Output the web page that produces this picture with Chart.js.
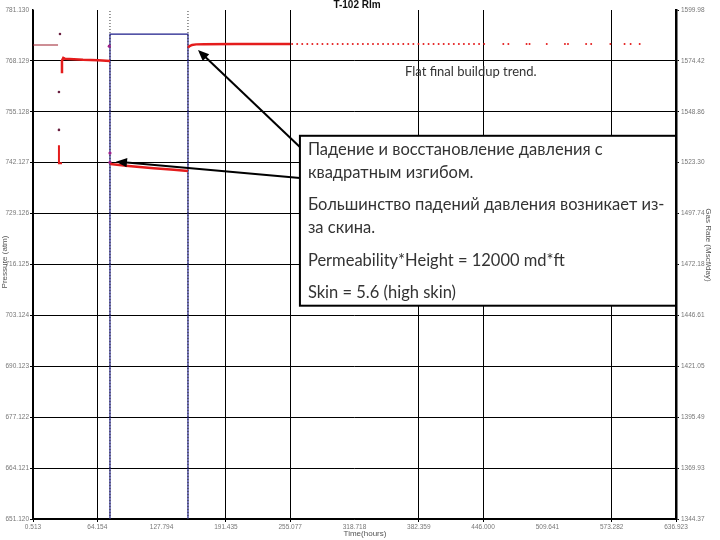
<!DOCTYPE html>
<html>
<head>
<meta charset="utf-8">
<script src="https://cdn.jsdelivr.net/npm/chart.js@4/dist/chart.umd.min.js"></script>
<style>
  html, body { margin: 0; padding: 0; background: #fff; }
  #wrap { width: 720px; height: 540px; }
</style>
</head>
<body>
<div id="wrap"><canvas id="pressureChart" width="720" height="540"></canvas></div>
<script>
// Axis ticks (hours / atm / rate)
const xTicks = [0.513, 64.154, 127.794, 191.435, 255.077, 318.718, 382.359, 446.000, 509.641, 573.282, 636.923];
const xLabels = ['0.513', '64.154', '127.794', '191.435', '255.077', '318.718', '382.359', '446.000', '509.641', '573.282', '636.923'];
const xNoGrid = [2, 5, 8];
const leftTicks = [651.120, 664.121, 677.122, 690.123, 703.124, 716.125, 729.126, 742.127, 755.128, 768.129, 781.130];
const leftLabels = ['651.120', '664.121', '677.122', '690.123', '703.124', '716.125', '729.126', '742.127', '755.128', '768.129', '781.130'];
const rightTicks = [1344.37, 1369.93, 1395.49, 1421.05, 1446.61, 1472.18, 1497.74, 1523.30, 1548.86, 1574.42, 1599.98];
const rightLabels = ['1344.37', '1369.93', '1395.49', '1421.05', '1446.61', '1472.18', '1497.74', '1523.30', '1548.86', '1574.42', '1599.98'];

// Pressure series (hours, atm)
const earlyHours = [0.513, 25.3];
const earlyPres = [772.19, 772.19];
const strayHours = [27.2, 26.2, 26.2];
const strayPres = [775.0, 760.2, 750.5];
const upper1Hours = [29.2, 29.2, 30.5, 32.0, 50.0, 65.0, 76.7];
const upper1Pres = [765.0, 768.2, 768.9, 768.7, 768.4, 768.3, 768.1];
const lower1Hours = [26.2, 26.2, 29.2];
const lower1Pres = [746.6, 742.0, 742.0];
const lower2Hours = [77.0, 95.0, 120.0, 140.0, 153.9];
const lower2Pres = [741.8, 741.3, 740.7, 740.3, 740.0];
const markHours = [76.0, 76.7, 76.7];
const markPres = [771.9, 744.6, 742.2];
const upper2Hours = [153.9, 155.5, 158.0, 162.0, 170.0, 200.0, 230.0, 255.0];
const upper2Pres = [771.5, 771.9, 772.2, 772.35, 772.4, 772.45, 772.45, 772.45];
const tailHours = [257, 262, 267, 272, 277, 282, 287, 292, 297, 302, 307, 312, 317, 322, 327, 332, 337, 342,
  347, 352, 357, 362, 367, 372, 377, 382, 387, 392, 397, 402, 407, 412, 417, 422, 427, 432, 437, 442, 447,
  466, 471, 489, 492, 509, 527, 530, 548, 553, 572, 586, 592, 601];
const tailPres = tailHours.map(() => 772.45);

// Rate series (hours, rate)
const rateHours = [76.7, 76.7, 153.9, 153.9];
const rateVals = [1344.37, 1587.9, 1587.9, 1344.37];

// Annotations (data coordinates)
const noteBox = { x1: 264.7, x2: 636.923, y1: 749.0, y2: 705.6 };
const arrows = [
  { from: [265.7, 745.9], to: [163.8, 770.9] },
  { from: [264.7, 738.2], to: [82.6, 742.4] }
];
const flatNote = { x: 368.7, y: 765.3, text: 'Flat final buildup trend.' };
const noteLines = [
  'Падение и восстановление давления с',
  'квадратным изгибом.',
  'Большинство падений давления возникает из-',
  'за скина.',
  'Permeability*Height = 12000 md*ft',
  'Skin = 5.6 (high skin)'
];
const noteOffsets = [14, 37, 69, 92, 125, 157];

function pts(xs, ys) {
  return xs.map((x, i) => ({ x: x, y: ys[i] }));
}

const RED = '#e41c1c';

const annotationPlugin = {
  id: 'notes',
  afterDatasetsDraw(chart) {
    const { ctx, scales } = chart;
    const xs = scales.x, ys = scales.y;
    ctx.save();

    // flat buildup note
    ctx.font = '13px Lato';
    ctx.fillStyle = '#333';
    ctx.textBaseline = 'middle';
    ctx.fillText(flatNote.text, xs.getPixelForValue(flatNote.x), ys.getPixelForValue(flatNote.y));

    // arrows
    ctx.strokeStyle = '#000';
    ctx.fillStyle = '#000';
    ctx.lineWidth = 2;
    arrows.forEach(a => {
      const x0 = xs.getPixelForValue(a.from[0]), y0 = ys.getPixelForValue(a.from[1]);
      const x1 = xs.getPixelForValue(a.to[0]), y1 = ys.getPixelForValue(a.to[1]);
      const ang = Math.atan2(y1 - y0, x1 - x0);
      ctx.beginPath();
      ctx.moveTo(x0, y0);
      ctx.lineTo(x1 - 8 * Math.cos(ang), y1 - 8 * Math.sin(ang));
      ctx.stroke();
      ctx.beginPath();
      ctx.moveTo(x1, y1);
      ctx.lineTo(x1 - 12 * Math.cos(ang - 0.4), y1 - 12 * Math.sin(ang - 0.4));
      ctx.lineTo(x1 - 12 * Math.cos(ang + 0.4), y1 - 12 * Math.sin(ang + 0.4));
      ctx.closePath();
      ctx.fill();
    });

    // text box
    const bx = xs.getPixelForValue(noteBox.x1), bx2 = xs.getPixelForValue(noteBox.x2);
    const by = ys.getPixelForValue(noteBox.y1), by2 = ys.getPixelForValue(noteBox.y2);
    ctx.fillStyle = '#fff';
    ctx.fillRect(bx, by, bx2 - bx, by2 - by);
    ctx.lineWidth = 2;
    ctx.strokeRect(bx, by, bx2 - bx, by2 - by);
    ctx.fillStyle = '#333';
    ctx.font = '16.5px Lato';
    noteLines.forEach((t, i) => ctx.fillText(t, bx + 8, by + noteOffsets[i]));

    // titles
    ctx.font = 'bold 10px "Liberation Sans"';
    ctx.textAlign = 'center';
    ctx.fillStyle = '#111';
    ctx.fillText('T-102 Rlm', 357, 5);
    ctx.font = '8px "Liberation Sans"';
    ctx.fillStyle = '#555';
    ctx.fillText('Time(hours)', 365, 534);
    ctx.save();
    ctx.translate(5, 262);
    ctx.rotate(-Math.PI / 2);
    ctx.fillText('Pressure (atm)', 0, 0);
    ctx.restore();
    ctx.save();
    ctx.translate(708, 245);
    ctx.rotate(Math.PI / 2);
    ctx.fillText('Gas Rate (Mscf/day)', 0, 0);
    ctx.restore();
    ctx.restore();
  }
};

const tickFont = { family: 'Liberation Sans', size: 6.5 };
const tickColor = '#777';

new Chart(document.getElementById('pressureChart'), {
  type: 'scatter',
  data: {
    datasets: [
      { data: pts(earlyHours, earlyPres), showLine: true, borderColor: '#9b1c2a', borderWidth: 1, pointRadius: 0 },
      { data: pts(strayHours, strayPres), showLine: false, pointRadius: 1.3, pointBackgroundColor: '#6a2040', pointBorderWidth: 0 },
      { data: pts(upper1Hours, upper1Pres), showLine: true, borderColor: RED, borderWidth: 2.5, pointRadius: 0 },
      { data: pts(lower1Hours, lower1Pres), showLine: true, borderColor: RED, borderWidth: 2, pointRadius: 0 },
      { data: pts(lower2Hours, lower2Pres), showLine: true, borderColor: RED, borderWidth: 2.5, pointRadius: 0 },
      { data: pts(upper2Hours, upper2Pres), showLine: true, borderColor: RED, borderWidth: 2.5, pointRadius: 0 },
      { data: pts(tailHours, tailPres), showLine: false, pointRadius: 1, pointBackgroundColor: RED, pointBorderWidth: 0 },
      { data: pts(markHours, markPres), showLine: false, pointRadius: 1.6, pointBackgroundColor: '#a0208a', pointBorderWidth: 0 },
      { data: pts([76.7, 76.7], [leftTicks[0], leftTicks[10]]), showLine: true, borderColor: '#333', borderWidth: 1, borderDash: [1, 2], pointRadius: 0 },
      { data: pts([153.9, 153.9], [leftTicks[0], leftTicks[10]]), showLine: true, borderColor: '#333', borderWidth: 1, borderDash: [1, 2], pointRadius: 0 },
      { data: pts(rateHours, rateVals), yAxisID: 'y2', showLine: true, borderColor: '#1c1c8a', borderWidth: 1.2, pointRadius: 0 }
    ]
  },
  options: {
    responsive: false,
    animation: false,
    layout: { padding: { top: 10, left: 0, right: 0, bottom: 0 } },
    plugins: { legend: { display: false }, tooltip: { enabled: false } },
    scales: {
      x: {
        type: 'linear',
        min: xTicks[0],
        max: xTicks[10],
        afterBuildTicks: s => { s.ticks = xTicks.map(v => ({ value: v })); },
        afterFit: s => { s.height = 21; },
        ticks: {
          autoSkip: false, maxRotation: 0, padding: 1, font: tickFont, color: tickColor,
          callback: (v, i) => xLabels[i]
        },
        grid: {
          color: c => (xNoGrid.includes(c.index) ? 'rgba(0,0,0,0)' : '#000'),
          lineWidth: 1, tickLength: 3
        },
        border: { color: '#000', width: 1.5 }
      },
      y: {
        position: 'left',
        min: leftTicks[0],
        max: leftTicks[10],
        afterBuildTicks: s => { s.ticks = leftTicks.map(v => ({ value: v })); },
        afterFit: s => { s.width = 33; },
        ticks: {
          autoSkip: false, padding: 1, font: tickFont, color: tickColor,
          callback: (v, i) => leftLabels[i]
        },
        grid: {
          color: c => (c.index === 10 ? 'rgba(0,0,0,0)' : '#000'),
          lineWidth: 1, tickLength: 3
        },
        border: { color: '#000', width: 1.5 }
      },
      y2: {
        position: 'right',
        min: rightTicks[0],
        max: rightTicks[10],
        afterBuildTicks: s => { s.ticks = rightTicks.map(v => ({ value: v })); },
        afterFit: s => { s.width = 44; },
        ticks: {
          autoSkip: false, padding: 2, font: tickFont, color: tickColor,
          callback: (v, i) => rightLabels[i]
        },
        grid: { drawOnChartArea: false, color: '#000', tickLength: 3 },
        border: { color: '#000', width: 2.5, dash: [2, 1] }
      }
    }
  },
  plugins: [annotationPlugin]
});
</script>
</body>
</html>
